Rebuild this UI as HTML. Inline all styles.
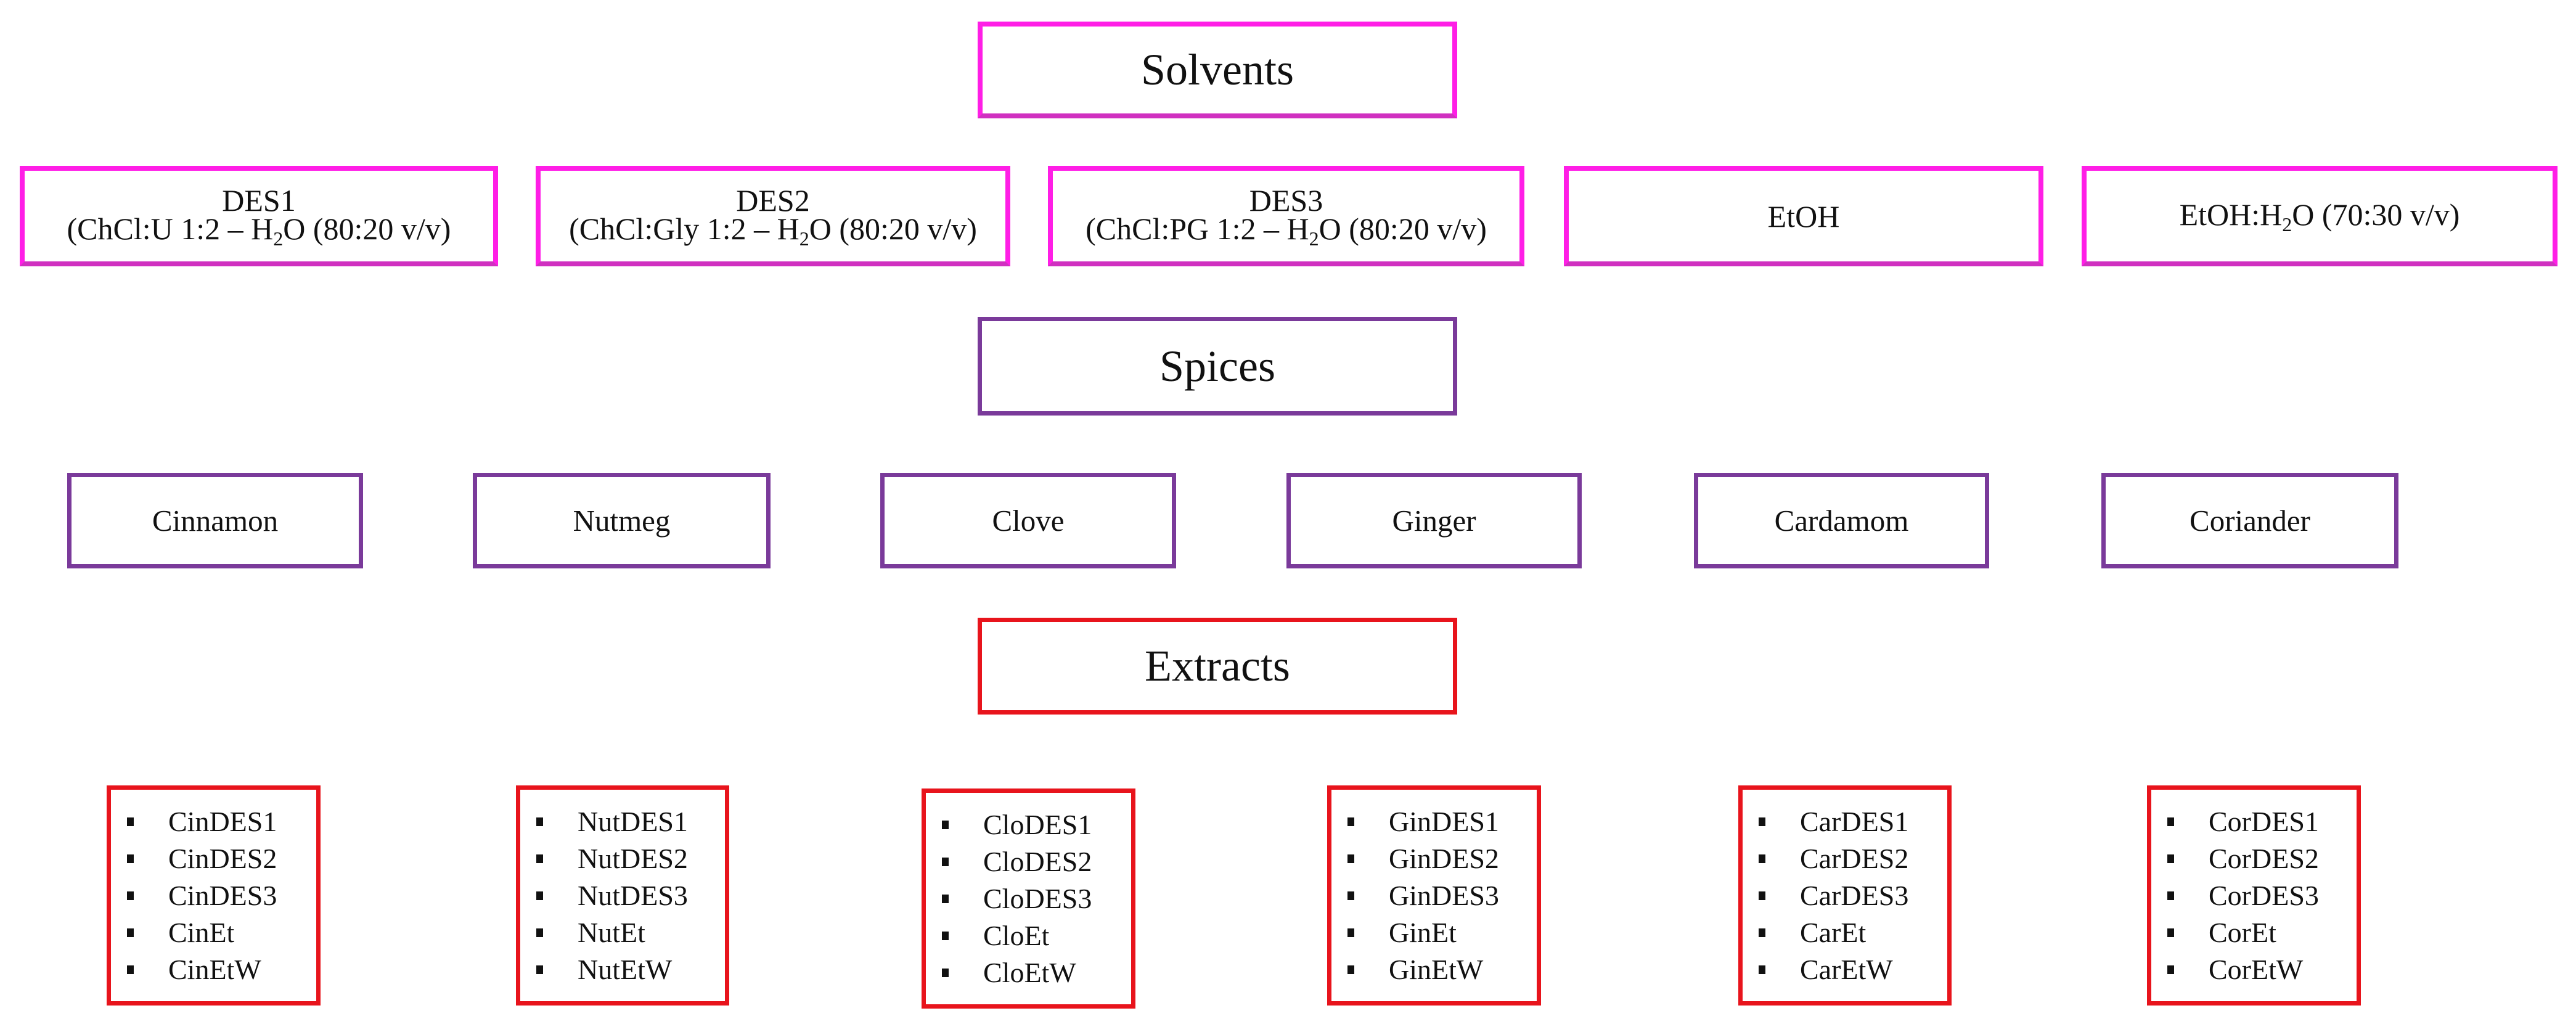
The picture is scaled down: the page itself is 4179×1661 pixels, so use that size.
<!DOCTYPE html>
<html><head><meta charset="utf-8"><style>
html,body{margin:0;padding:0;background:#fff;}
body{width:4179px;height:1661px;position:relative;overflow:hidden;font-family:"Liberation Serif",serif;color:#111;}
.b{position:absolute;box-sizing:border-box;display:flex;align-items:center;justify-content:center;text-align:center;background:#fff;}
.m{border:8px solid #ff1ee6;border-bottom-color:#d030c0;}
.p{border:7px solid #7a3a9a;}
.r{border:7px solid #e8141c;}
.big{font-size:72px;}
.des{font-size:50px;line-height:46px;}
.sp{font-size:49px;}
.l{justify-content:flex-start;font-size:46px;line-height:60px;text-align:left;padding-left:26px;}
.l span{display:block;}
.l span:before{content:"";display:inline-block;width:11px;height:14px;background:#111;margin-right:56px;vertical-align:middle;position:relative;top:-4px;}
.s{font-size:32px;position:relative;top:10px;}
</style></head><body>
<div class="b m big" style="left:1586px;top:35px;width:778px;height:157px">Solvents</div>
<div class="b m des" style="left:32px;top:269px;width:776px;height:163px"><div>DES1<br>(ChCl:U 1:2 – H<span class="s">2</span>O (80:20 v/v)</div></div>
<div class="b m des" style="left:869px;top:269px;width:770px;height:163px"><div>DES2<br>(ChCl:Gly 1:2 – H<span class="s">2</span>O (80:20 v/v)</div></div>
<div class="b m des" style="left:1700px;top:269px;width:773px;height:163px"><div>DES3<br>(ChCl:PG 1:2 – H<span class="s">2</span>O (80:20 v/v)</div></div>
<div class="b m des" style="left:2537px;top:269px;width:778px;height:163px">EtOH</div>
<div class="b m des" style="left:3377px;top:269px;width:772px;height:163px"><div>EtOH:H<span class="s">2</span>O (70:30 v/v)</div></div>

<div class="b p big" style="left:1586px;top:514px;width:778px;height:160px">Spices</div>
<div class="b p sp" style="left:109px;top:767px;width:480px;height:155px">Cinnamon</div>
<div class="b p sp" style="left:767px;top:767px;width:483px;height:155px">Nutmeg</div>
<div class="b p sp" style="left:1428px;top:767px;width:480px;height:155px">Clove</div>
<div class="b p sp" style="left:2087px;top:767px;width:479px;height:155px">Ginger</div>
<div class="b p sp" style="left:2748px;top:767px;width:479px;height:155px">Cardamom</div>
<div class="b p sp" style="left:3409px;top:767px;width:482px;height:155px">Coriander</div>

<div class="b r big" style="left:1586px;top:1002px;width:778px;height:157px">Extracts</div>
<div class="b r l" style="left:173px;top:1274px;width:347px;height:357px"><div><span>CinDES1</span><span>CinDES2</span><span>CinDES3</span><span>CinEt</span><span>CinEtW</span></div></div>
<div class="b r l" style="left:837px;top:1274px;width:346px;height:357px"><div><span>NutDES1</span><span>NutDES2</span><span>NutDES3</span><span>NutEt</span><span>NutEtW</span></div></div>
<div class="b r l" style="left:1495px;top:1279px;width:347px;height:357px"><div><span>CloDES1</span><span>CloDES2</span><span>CloDES3</span><span>CloEt</span><span>CloEtW</span></div></div>
<div class="b r l" style="left:2153px;top:1274px;width:347px;height:357px"><div><span>GinDES1</span><span>GinDES2</span><span>GinDES3</span><span>GinEt</span><span>GinEtW</span></div></div>
<div class="b r l" style="left:2820px;top:1274px;width:346px;height:357px"><div><span>CarDES1</span><span>CarDES2</span><span>CarDES3</span><span>CarEt</span><span>CarEtW</span></div></div>
<div class="b r l" style="left:3483px;top:1274px;width:347px;height:357px"><div><span>CorDES1</span><span>CorDES2</span><span>CorDES3</span><span>CorEt</span><span>CorEtW</span></div></div>
</body></html>
